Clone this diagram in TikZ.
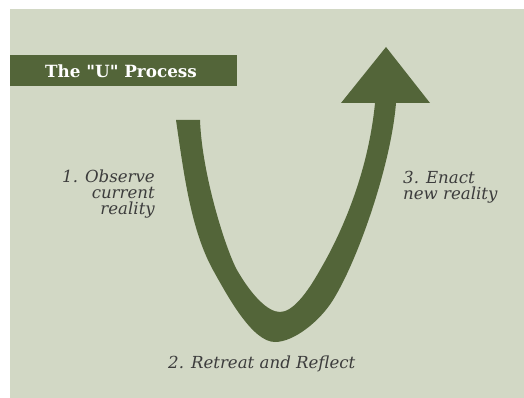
\documentclass[tikz,border=0pt]{standalone}
\usepackage{fontspec}
\setmainfont{DejaVu Serif}
\newfontfamily\titlefont{DejaVu Serif}[Ligatures=TeXOff]
\definecolor{bgc}{HTML}{D2D8C5}
\definecolor{ugreen}{HTML}{536539}
\definecolor{txt}{HTML}{3C3C3C}
\begin{document}
\begin{tikzpicture}[x=1pt,y=-1pt,
  lbl/.style={font=\fontsize{16.6}{16}\selectfont\itshape, text=txt, inner sep=0pt},
  titlebar/.style={fill=ugreen, draw=none}]
\useasboundingbox (0,0) rectangle (524,398);
\fill[white] (0,0) rectangle (524,398);
\fill[bgc] (10,9) rectangle (524,398);
% title bar
\fill[titlebar] (10,55) rectangle (237,86);
\node[font=\titlefont\fontsize{16.8}{18}\selectfont\bfseries, text=white, inner sep=0pt] (title) at (121,71) {The "U" Process};
% U arrow
\fill[ugreen] (176,120) .. controls (184,175) and (191,230) .. (213,270)
  .. controls (227,295) and (252,342) .. (275,342)
  .. controls (294,342) and (320,321) .. (333,300)
  .. controls (358,260) and (391,165) .. (396,103)
  -- (430,103) -- (386,47) -- (341,103) -- (375,103)
  .. controls (368,175) and (340,236) .. (320,270)
  .. controls (306,295) and (292,312) .. (280,312)
  .. controls (268,312) and (252,296) .. (237,270)
  .. controls (226,250) and (202,175) .. (200,120) -- cycle;
% labels
\node[lbl, align=right, anchor=north east] (obs) at (155,170) {1. Observe\\current\\reality};
\node[lbl, align=left, anchor=north west] (enact) at (403,171) {3. Enact\\new reality};
\node[lbl, anchor=west] (retreat) at (168,364) {2. Retreat and Reflect};
\end{tikzpicture}
\end{document}
